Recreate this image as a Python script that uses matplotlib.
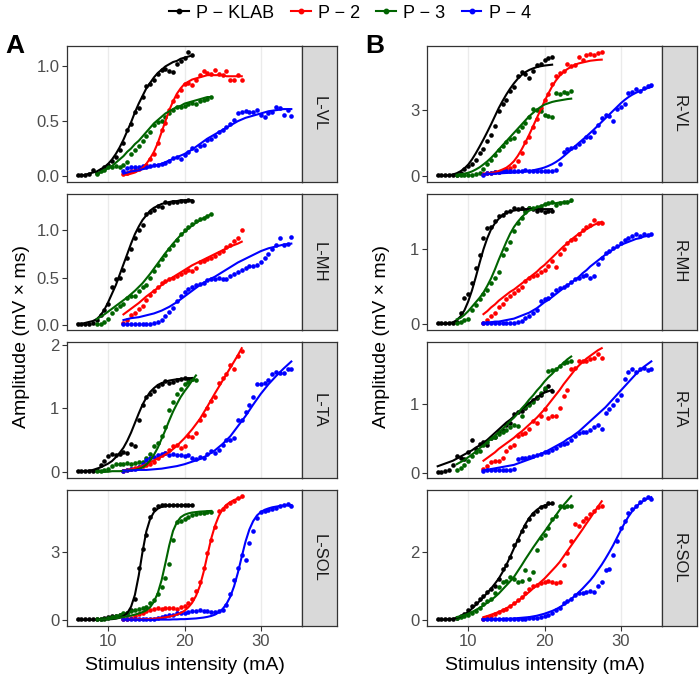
import numpy as np
import matplotlib
matplotlib.use("Agg")
import matplotlib.pyplot as plt
from matplotlib.lines import Line2D

plt.rcParams['font.family'] = ['Liberation Sans', 'DejaVu Sans']

# groups, colours and the stimulus ramp (first intensity of each ramp, step 0.5 mA)
groups = ["P \u2212 KLAB", "P \u2212 2", "P \u2212 3", "P \u2212 4"]
colors = ["black", "red", "darkgreen", "blue"]
first_mA = [6.0, 12.0, 8.5, 12.0]
step_mA = 0.5

# ---------------- L-VL
lvl_klab = [0.01, 0.01, 0.01, 0.02, 0.05, 0.03, 0.05, 0.08, 0.10, 0.14, 0.17, 0.24, 0.30, 0.42, 0.47, 0.58,
            0.62, 0.72, 0.82, 0.84, 0.88, 0.93, 0.97, 0.98, 0.96, 0.95, 1.02, 1.05, 1.08, 1.13, 1.10]
lvl_klab_fit = [0.00, 0.00, 0.01, 0.02, 0.03, 0.04, 0.06, 0.08, 0.11, 0.15, 0.20, 0.26, 0.33, 0.41, 0.49, 0.58,
                0.66, 0.73, 0.80, 0.85, 0.90, 0.94, 0.97, 1.00, 1.02, 1.04, 1.05, 1.07, 1.08, 1.09, 1.10]
lvl_p2 = [0.02, 0.03, 0.04, 0.05, 0.06, 0.08, 0.10, 0.15, 0.20, 0.30, 0.42, 0.48, 0.60, 0.68, 0.73, 0.78,
          0.84, 0.85, 0.83, 0.88, 0.92, 0.96, 0.94, 0.93, 0.97, 0.93, 0.92, 0.96, 0.88, 0.88, 0.92, 0.88]
lvl_p2_fit = [0.01, 0.01, 0.02, 0.03, 0.05, 0.07, 0.11, 0.16, 0.22, 0.30, 0.40, 0.50, 0.60, 0.68, 0.75, 0.80,
              0.84, 0.86, 0.88, 0.89, 0.90, 0.91, 0.92, 0.92, 0.92, 0.92, 0.92, 0.91, 0.91, 0.91, 0.91, 0.91]
lvl_p3 = [0.02, 0.04, 0.05, 0.08, 0.08, 0.09, 0.08, 0.10, 0.13, 0.20, 0.24, 0.27, 0.32, 0.36, 0.40, 0.46,
          0.49, 0.50, 0.54, 0.57, 0.60, 0.63, 0.63, 0.64, 0.66, 0.67, 0.66, 0.68, 0.69, 0.70, 0.72]
lvl_p3_fit = [0.02, 0.03, 0.05, 0.07, 0.09, 0.12, 0.15, 0.18, 0.22, 0.25, 0.29, 0.32, 0.36, 0.40, 0.44, 0.48,
              0.51, 0.54, 0.57, 0.59, 0.61, 0.63, 0.64, 0.66, 0.67, 0.68, 0.69, 0.70, 0.71, 0.72, 0.72]
lvl_p4 = [0.04, 0.07, 0.08, 0.08, 0.08, 0.09, 0.08, 0.09, 0.10, 0.10, 0.11, 0.12, 0.14, 0.16, 0.17, 0.15,
          0.19, 0.22, 0.25, 0.24, 0.27, 0.28, 0.33, 0.34, 0.36, 0.40, 0.42, 0.45, 0.47, 0.51, 0.57, 0.58,
          0.59, 0.58, 0.58, 0.60, 0.56, 0.54, 0.57, 0.58, 0.63, 0.62, 0.56, 0.60, 0.55]
lvl_p4_fit = [0.02, 0.03, 0.04, 0.045, 0.05, 0.06, 0.07, 0.08, 0.09, 0.10, 0.11, 0.125, 0.14, 0.155, 0.17,
              0.185, 0.20, 0.22, 0.24, 0.265, 0.29, 0.315, 0.34, 0.36, 0.38, 0.40, 0.42, 0.44, 0.46, 0.48,
              0.50, 0.515, 0.53, 0.54, 0.55, 0.56, 0.57, 0.58, 0.59, 0.595, 0.60, 0.605, 0.61, 0.61, 0.61]

# ---------------- L-MH
lmh_klab = [0.01, 0.01, 0.01, 0.01, 0.02, 0.05, 0.10, 0.16, 0.22, 0.40, 0.48, 0.50, 0.58, 0.71, 0.80, 0.92,
            1.00, 1.06, 1.17, 1.20, 1.22, 1.26, 1.25, 1.30, 1.29, 1.30, 1.30, 1.31, 1.31, 1.32, 1.31]
lmh_klab_fit = [0.01, 0.01, 0.02, 0.03, 0.04, 0.06, 0.10, 0.16, 0.24, 0.33, 0.42, 0.53, 0.64, 0.75, 0.86, 0.96,
                1.04, 1.11, 1.16, 1.21, 1.24, 1.26, 1.28, 1.29, 1.30, 1.31, 1.31, 1.32, 1.32, 1.32, 1.32]
lmh_p2 = [0.02, 0.05, 0.10, 0.12, 0.17, 0.20, 0.26, 0.32, 0.36, 0.40, 0.44, 0.46, 0.48, 0.50, 0.52, 0.54,
          0.56, 0.58, 0.57, 0.60, 0.66, 0.68, 0.70, 0.71, 0.73, 0.76, 0.78, 0.82, 0.84, 0.89, 0.92, 1.00]
lmh_p2_fit = [0.11, 0.14, 0.17, 0.20, 0.23, 0.265, 0.30, 0.33, 0.36, 0.39, 0.42, 0.45, 0.48, 0.505, 0.53,
              0.555, 0.58, 0.605, 0.63, 0.65, 0.67, 0.69, 0.71, 0.73, 0.75, 0.77, 0.79, 0.81, 0.83, 0.845,
              0.86, 0.88]
lmh_p3 = [0.01, 0.01, 0.03, 0.06, 0.12, 0.17, 0.20, 0.22, 0.28, 0.31, 0.31, 0.36, 0.40, 0.42, 0.50, 0.57,
          0.63, 0.70, 0.74, 0.80, 0.85, 0.90, 0.96, 1.00, 1.04, 1.07, 1.10, 1.12, 1.13, 1.15, 1.17]
lmh_p3_fit = [0.06, 0.085, 0.11, 0.14, 0.17, 0.20, 0.23, 0.26, 0.29, 0.325, 0.36, 0.40, 0.44, 0.49, 0.54,
              0.595, 0.65, 0.705, 0.76, 0.81, 0.86, 0.905, 0.95, 0.985, 1.02, 1.05, 1.08, 1.105, 1.13,
              1.15, 1.17]
lmh_p4 = [0.01, 0.01, 0.01, 0.01, 0.01, 0.01, 0.01, 0.01, 0.02, 0.03, 0.05, 0.09, 0.13, 0.18, 0.25, 0.30,
          0.35, 0.38, 0.40, 0.42, 0.43, 0.44, 0.47, 0.49, 0.48, 0.50, 0.49, 0.48, 0.52, 0.54, 0.56, 0.58,
          0.60, 0.62, 0.62, 0.63, 0.66, 0.71, 0.75, 0.80, 0.84, 0.92, 0.85, 0.86, 0.93]
lmh_p4_fit = [0.05, 0.06, 0.07, 0.075, 0.08, 0.09, 0.10, 0.11, 0.12, 0.135, 0.15, 0.17, 0.19, 0.215, 0.24,
              0.27, 0.30, 0.33, 0.36, 0.39, 0.42, 0.445, 0.47, 0.49, 0.51, 0.535, 0.56, 0.585, 0.61, 0.635,
              0.66, 0.68, 0.70, 0.72, 0.74, 0.76, 0.78, 0.795, 0.81, 0.82, 0.83, 0.84, 0.85, 0.855, 0.86]

# ---------------- L-TA
lta_klab = [0.02, 0.02, 0.02, 0.02, 0.02, 0.03, 0.10, 0.17, 0.25, 0.28, 0.26, 0.28, 0.31, 0.30, 0.44, 0.40,
            0.82, 1.06, 1.18, 1.22, 1.28, 1.35, 1.38, 1.44, 1.40, 1.42, 1.45, 1.46, 1.48, 1.47, 1.46]
lta_klab_fit = [0.01, 0.01, 0.01, 0.02, 0.03, 0.05, 0.07, 0.10, 0.13, 0.17, 0.23, 0.30, 0.38, 0.49, 0.62, 0.77,
                0.92, 1.06, 1.17, 1.26, 1.32, 1.37, 1.40, 1.42, 1.44, 1.45, 1.46, 1.465, 1.47, 1.475, 1.48]
lta_p2 = [0.02, 0.03, 0.05, 0.06, 0.08, 0.09, 0.11, 0.13, 0.15, 0.22, 0.26, 0.30, 0.34, 0.40, 0.42, 0.37,
          0.40, 0.56, 0.55, 0.62, 0.82, 0.90, 1.00, 1.12, 1.18, 1.40, 1.48, 1.54, 1.68, 1.62, 1.82, 1.90]
lta_p2_fit = [0.02, 0.03, 0.04, 0.055, 0.07, 0.095, 0.12, 0.15, 0.18, 0.21, 0.24, 0.275, 0.31, 0.36, 0.41,
              0.47, 0.53, 0.60, 0.67, 0.75, 0.83, 0.93, 1.03, 1.135, 1.24, 1.34, 1.44, 1.54, 1.64, 1.74,
              1.84, 1.95]
lta_p3 = [0.02, 0.02, 0.03, 0.05, 0.09, 0.12, 0.12, 0.13, 0.14, 0.13, 0.14, 0.15, 0.16, 0.22, 0.28, 0.40,
          0.46, 0.56, 0.70, 0.98, 1.10, 1.22, 1.30, 1.38, 1.42, 1.46, 1.45]
lta_p3_fit = [0.00, 0.00, 0.00, 0.00, 0.01, 0.01, 0.01, 0.015, 0.02, 0.025, 0.03, 0.045, 0.07, 0.115, 0.18,
              0.27, 0.38, 0.52, 0.66, 0.81, 0.95, 1.07, 1.18, 1.27, 1.35, 1.44, 1.52]
lta_p4 = [0.02, 0.03, 0.04, 0.05, 0.08, 0.12, 0.18, 0.22, 0.24, 0.26, 0.28, 0.30, 0.27, 0.28, 0.27, 0.26,
          0.25, 0.27, 0.22, 0.20, 0.24, 0.22, 0.28, 0.33, 0.30, 0.35, 0.42, 0.50, 0.50, 0.54, 0.82, 0.82,
          0.95, 1.05, 1.18, 1.38, 1.38, 1.40, 1.45, 1.55, 1.58, 1.56, 1.56, 1.62, 1.62]
lta_p4_fit = [0.02, 0.02, 0.02, 0.025, 0.03, 0.03, 0.03, 0.035, 0.04, 0.045, 0.05, 0.06, 0.07, 0.08, 0.09,
              0.105, 0.12, 0.14, 0.16, 0.18, 0.20, 0.23, 0.26, 0.30, 0.34, 0.39, 0.44, 0.50, 0.56, 0.64,
              0.72, 0.80, 0.88, 0.97, 1.06, 1.145, 1.23, 1.305, 1.38, 1.445, 1.51, 1.57, 1.63, 1.685, 1.74]

# ---------------- L-SOL
lsol_klab = [0.02, 0.02, 0.02, 0.02, 0.02, 0.03, 0.05, 0.08, 0.12, 0.15, 0.18, 0.22, 0.25, 0.30, 0.45, 0.90,
             2.30, 3.10, 3.75, 4.55, 4.90, 5.00, 5.05, 5.08, 5.08, 5.07, 5.06, 5.07, 5.05, 5.06, 5.05]
lsol_klab_fit = [0.00, 0.00, 0.00, 0.00, 0.00, 0.00, 0.01, 0.01, 0.02, 0.03, 0.05, 0.09, 0.16, 0.30, 0.58,
                 1.10, 1.95, 3.00, 3.90, 4.45, 4.75, 4.90, 4.98, 5.02, 5.04, 5.05, 5.05, 5.05, 5.05, 5.05, 5.05]
lsol_p2 = [0.02, 0.05, 0.10, 0.15, 0.25, 0.32, 0.40, 0.45, 0.48, 0.50, 0.49, 0.50, 0.50, 0.50, 0.49, 0.55,
           0.62, 0.72, 0.90, 1.25, 1.65, 2.30, 2.95, 3.50, 4.10, 4.80, 4.90, 5.00, 5.15, 5.25, 5.35, 5.45]
lsol_p2_fit = [0.00, 0.00, 0.01, 0.01, 0.02, 0.02, 0.03, 0.04, 0.05, 0.07, 0.09, 0.11, 0.14, 0.18, 0.23, 0.30,
               0.40, 0.55, 0.75, 1.05, 1.48, 2.10, 2.85, 3.58, 4.15, 4.58, 4.88, 5.07, 5.19, 5.28, 5.35, 5.40]
lsol_p3 = [0.02, 0.03, 0.05, 0.08, 0.12, 0.18, 0.22, 0.28, 0.32, 0.38, 0.42, 0.48, 0.50, 0.58, 0.72, 0.88,
           1.15, 1.45, 1.85, 2.45, 3.50, 4.30, 4.35, 4.45, 4.55, 4.62, 4.65, 4.70, 4.72, 4.75, 4.76]
lsol_p3_fit = [0.00, 0.01, 0.02, 0.03, 0.05, 0.07, 0.10, 0.12, 0.15, 0.19, 0.23, 0.28, 0.34, 0.42, 0.56, 0.80,
               1.18, 1.75, 2.50, 3.28, 3.92, 4.30, 4.52, 4.63, 4.69, 4.73, 4.75, 4.77, 4.78, 4.79, 4.80]
lsol_p4 = [0.02, 0.02, 0.02, 0.02, 0.02, 0.03, 0.03, 0.04, 0.05, 0.08, 0.12, 0.16, 0.20, 0.22, 0.28, 0.30,
           0.32, 0.35, 0.38, 0.40, 0.42, 0.40, 0.38, 0.36, 0.35, 0.38, 0.45, 0.65, 1.15, 1.75, 2.30, 2.85,
           2.65, 3.40, 3.90, 4.50, 4.75, 4.80, 4.85, 4.90, 4.95, 5.00, 5.05, 5.10, 5.02]
lsol_p4_fit = [0.00, 0.00, 0.00, 0.00, 0.00, 0.00, 0.00, 0.00, 0.00, 0.01, 0.01, 0.01, 0.01, 0.02, 0.02, 0.03,
               0.03, 0.04, 0.05, 0.06, 0.08, 0.10, 0.13, 0.17, 0.23, 0.33, 0.48, 0.70, 1.02, 1.48, 2.08, 2.78,
               3.45, 3.98, 4.35, 4.60, 4.75, 4.85, 4.91, 4.96, 4.99, 5.02, 5.04, 5.05, 5.06]

# ---------------- R-VL
rvl_klab = [0.03, 0.03, 0.03, 0.03, 0.03, 0.05, 0.15, 0.30, 0.45, 0.55, 0.75, 1.05, 1.25, 1.60, 1.85, 2.30,
            2.95, 3.30, 3.45, 3.90, 4.05, 4.55, 4.75, 4.65, 4.45, 4.80, 5.05, 5.10, 5.30, 5.38, 5.45]
rvl_klab_fit = [0.01, 0.01, 0.02, 0.04, 0.07, 0.13, 0.22, 0.35, 0.52, 0.76, 1.04, 1.35, 1.67, 2.01, 2.36, 2.73,
                3.10, 3.42, 3.72, 3.99, 4.23, 4.44, 4.61, 4.74, 4.84, 4.91, 4.97, 5.01, 5.04, 5.06, 5.08]
rvl_p2 = [0.08, 0.12, 0.15, 0.18, 0.20, 0.25, 0.30, 0.38, 0.45, 0.70, 1.05, 1.55, 1.80, 2.25, 2.60, 3.10,
          3.45, 3.75, 4.20, 4.55, 4.70, 4.80, 5.10, 5.00, 5.05, 5.45, 5.30, 5.50, 5.55, 5.50, 5.60, 5.65]
rvl_p2_fit = [0.08, 0.10, 0.13, 0.17, 0.23, 0.30, 0.38, 0.51, 0.68, 0.92, 1.21, 1.54, 1.89, 2.27, 2.65, 3.03,
              3.41, 3.76, 4.09, 4.36, 4.58, 4.75, 4.88, 4.99, 5.08, 5.14, 5.18, 5.22, 5.26, 5.28, 5.30, 5.31]
rvl_p3 = [0.04, 0.04, 0.05, 0.05, 0.06, 0.10, 0.15, 0.30, 0.55, 0.75, 0.98, 1.20, 1.35, 1.55, 1.70, 1.75,
          2.05, 2.25, 2.40, 2.70, 3.05, 3.00, 2.95, 2.80, 2.75, 2.70, 3.80, 3.75, 3.85, 3.80, 3.88]
rvl_p3_fit = [0.06, 0.08, 0.11, 0.15, 0.21, 0.30, 0.40, 0.53, 0.67, 0.83, 1.01, 1.21, 1.40, 1.59, 1.78, 1.97,
              2.16, 2.35, 2.54, 2.73, 2.88, 3.03, 3.15, 3.26, 3.32, 3.38, 3.42, 3.45, 3.48, 3.51, 3.53]
rvl_p4 = [0.05, 0.12, 0.15, 0.18, 0.20, 0.22, 0.22, 0.24, 0.22, 0.25, 0.24, 0.26, 0.24, 0.25, 0.25, 0.22,
          0.24, 0.25, 0.24, 0.28, 0.55, 1.10, 1.22, 1.30, 1.32, 1.45, 1.60, 1.78, 1.80, 2.00, 2.35, 2.65,
          2.80, 2.75, 2.50, 3.05, 3.15, 3.30, 3.80, 3.85, 3.95, 3.90, 4.00, 4.10, 4.15]
rvl_p4_fit = [0.08, 0.09, 0.10, 0.11, 0.12, 0.13, 0.14, 0.15, 0.16, 0.17, 0.19, 0.21, 0.23, 0.26, 0.30, 0.34,
              0.39, 0.46, 0.54, 0.64, 0.76, 0.90, 1.05, 1.20, 1.36, 1.51, 1.66, 1.81, 1.97, 2.13, 2.30, 2.47,
              2.64, 2.81, 2.98, 3.15, 3.32, 3.47, 3.60, 3.71, 3.80, 3.88, 3.95, 4.01, 4.06]

# ---------------- R-MH
rmh_klab = [0.01, 0.01, 0.01, 0.01, 0.01, 0.02, 0.15, 0.35, 0.40, 0.55, 0.75, 0.92, 1.15, 1.28, 1.30, 1.38,
            1.45, 1.46, 1.50, 1.52, 1.55, 1.54, 1.55, 1.53, 1.55, 1.54, 1.52, 1.53, 1.50, 1.52, 1.51]
rmh_klab_fit = [0.00, 0.00, 0.00, 0.01, 0.02, 0.05, 0.10, 0.18, 0.30, 0.45, 0.63, 0.82, 1.00, 1.15, 1.27, 1.35,
                1.41, 1.46, 1.49, 1.51, 1.52, 1.53, 1.53, 1.54, 1.54, 1.54, 1.54, 1.54, 1.54, 1.54, 1.54]
rmh_p2 = [0.01, 0.05, 0.10, 0.14, 0.22, 0.27, 0.33, 0.38, 0.42, 0.46, 0.50, 0.58, 0.62, 0.64, 0.66, 0.70,
          0.72, 0.78, 0.84, 0.76, 0.94, 1.00, 1.08, 1.12, 1.14, 1.20, 1.26, 1.30, 1.33, 1.40, 1.36, 1.36]
rmh_p2_fit = [0.13, 0.17, 0.22, 0.26, 0.31, 0.35, 0.39, 0.43, 0.46, 0.50, 0.54, 0.58, 0.62, 0.66, 0.70, 0.75,
              0.79, 0.84, 0.89, 0.94, 0.99, 1.04, 1.08, 1.13, 1.17, 1.21, 1.24, 1.27, 1.30, 1.33, 1.35, 1.37]
rmh_p3 = [0.01, 0.02, 0.05, 0.07, 0.18, 0.25, 0.33, 0.40, 0.46, 0.55, 0.62, 0.70, 0.92, 1.00, 1.10, 1.25,
          1.36, 1.42, 1.50, 1.55, 1.56, 1.57, 1.58, 1.61, 1.62, 1.63, 1.60, 1.62, 1.63, 1.64, 1.66]
rmh_p3_fit = [0.06, 0.08, 0.12, 0.17, 0.23, 0.29, 0.35, 0.42, 0.51, 0.61, 0.73, 0.86, 0.98, 1.10, 1.21, 1.30,
              1.37, 1.43, 1.48, 1.52, 1.54, 1.56, 1.58, 1.60, 1.61, 1.62, 1.62, 1.63, 1.63, 1.64, 1.64]
rmh_p4 = [0.01, 0.01, 0.01, 0.01, 0.01, 0.01, 0.01, 0.01, 0.01, 0.02, 0.04, 0.08, 0.10, 0.14, 0.18, 0.30,
          0.33, 0.34, 0.40, 0.45, 0.48, 0.50, 0.52, 0.56, 0.60, 0.62, 0.64, 0.65, 0.62, 0.64, 0.80, 0.88,
          0.95, 0.98, 1.02, 1.05, 1.08, 1.12, 1.15, 1.18, 1.20, 1.18, 1.20, 1.19, 1.20]
rmh_p4_fit = [0.01, 0.02, 0.02, 0.03, 0.03, 0.04, 0.05, 0.06, 0.07, 0.09, 0.11, 0.13, 0.15, 0.18, 0.21, 0.25,
              0.29, 0.32, 0.36, 0.40, 0.44, 0.48, 0.52, 0.55, 0.59, 0.63, 0.68, 0.72, 0.77, 0.81, 0.85, 0.89,
              0.93, 0.96, 1.00, 1.03, 1.06, 1.08, 1.10, 1.12, 1.14, 1.15, 1.17, 1.18, 1.19]

# ---------------- R-TA
rta_klab = [0.02, 0.02, 0.03, 0.05, 0.12, 0.25, 0.22, 0.20, 0.30, 0.48, 0.35, 0.42, 0.45, 0.40, 0.50, 0.52,
            0.60, 0.62, 0.70, 0.72, 0.85, 0.88, 0.90, 0.94, 1.00, 1.05, 1.08, 1.12, 1.20, 1.25, 1.18]
rta_klab_fit = [0.10, 0.12, 0.14, 0.16, 0.18, 0.21, 0.24, 0.27, 0.30, 0.33, 0.37, 0.40, 0.44, 0.48, 0.53, 0.58,
                0.63, 0.68, 0.73, 0.77, 0.82, 0.87, 0.92, 0.97, 1.01, 1.05, 1.09, 1.13, 1.16, 1.18, 1.20]
rta_p2 = [0.06, 0.10, 0.16, 0.18, 0.18, 0.22, 0.32, 0.38, 0.40, 0.54, 0.56, 0.58, 0.63, 0.75, 0.72, 0.82,
          0.92, 0.80, 0.82, 0.82, 0.94, 1.11, 1.20, 1.50, 1.52, 1.61, 1.62, 1.62, 1.64, 1.66, 1.72, 1.66]
rta_p2_fit = [0.18, 0.22, 0.26, 0.30, 0.35, 0.39, 0.43, 0.47, 0.51, 0.56, 0.60, 0.65, 0.70, 0.75, 0.80, 0.86,
              0.92, 0.99, 1.06, 1.13, 1.20, 1.28, 1.35, 1.42, 1.49, 1.55, 1.60, 1.65, 1.69, 1.73, 1.77, 1.80]
rta_p3 = [0.04, 0.08, 0.12, 0.18, 0.25, 0.30, 0.32, 0.40, 0.45, 0.50, 0.52, 0.56, 0.60, 0.62, 0.66, 0.70,
          0.68, 0.82, 0.95, 0.98, 1.02, 1.10, 1.15, 1.22, 1.47, 1.48, 1.50, 1.55, 1.58, 1.60, 1.62]
rta_p3_fit = [0.13, 0.16, 0.19, 0.23, 0.27, 0.31, 0.36, 0.40, 0.45, 0.50, 0.54, 0.59, 0.64, 0.69, 0.75, 0.80,
              0.86, 0.93, 0.99, 1.06, 1.12, 1.19, 1.25, 1.32, 1.38, 1.43, 1.49, 1.54, 1.59, 1.64, 1.68]
rta_p4 = [0.03, 0.04, 0.04, 0.04, 0.04, 0.04, 0.05, 0.05, 0.06, 0.20, 0.22, 0.22, 0.24, 0.25, 0.26, 0.28,
          0.30, 0.31, 0.33, 0.36, 0.40, 0.42, 0.44, 0.48, 0.54, 0.58, 0.60, 0.60, 0.62, 0.66, 0.70, 0.64,
          0.87, 0.92, 0.98, 1.05, 1.12, 1.35, 1.45, 1.50, 1.46, 1.50, 1.52, 1.48, 1.50]
rta_p4_fit = [0.04, 0.05, 0.06, 0.07, 0.08, 0.09, 0.10, 0.11, 0.12, 0.14, 0.16, 0.18, 0.20, 0.22, 0.25, 0.28,
              0.30, 0.33, 0.36, 0.39, 0.42, 0.45, 0.49, 0.52, 0.56, 0.60, 0.65, 0.70, 0.75, 0.80, 0.85, 0.90,
              0.95, 1.01, 1.07, 1.13, 1.19, 1.25, 1.31, 1.37, 1.43, 1.48, 1.53, 1.57, 1.61]

# ---------------- R-SOL
rsol_klab = [0.01, 0.01, 0.01, 0.01, 0.02, 0.05, 0.10, 0.18, 0.28, 0.40, 0.50, 0.60, 0.70, 0.82, 0.90, 1.00,
             1.20, 1.50, 1.60, 1.85, 2.20, 2.35, 2.60, 2.75, 2.95, 3.10, 3.20, 3.30, 3.35, 3.42, 3.42]
rsol_klab_fit = [0.00, 0.00, 0.01, 0.02, 0.03, 0.06, 0.10, 0.16, 0.23, 0.33, 0.44, 0.55, 0.67, 0.79, 0.92, 1.06,
                 1.21, 1.40, 1.61, 1.85, 2.10, 2.35, 2.59, 2.81, 2.99, 3.13, 3.23, 3.31, 3.36, 3.39, 3.41]
rsol_p2 = [0.03, 0.08, 0.12, 0.16, 0.22, 0.28, 0.32, 0.40, 0.48, 0.58, 0.68, 0.80, 0.90, 0.98, 1.02, 1.08,
           1.12, 1.15, 1.10, 1.08, 1.12, 1.60, 1.95, 2.30, 2.80, 2.75, 2.90, 3.00, 3.10, 3.20, 3.30, 3.35]
rsol_p2_fit = [0.08, 0.11, 0.15, 0.19, 0.23, 0.28, 0.34, 0.40, 0.47, 0.55, 0.64, 0.73, 0.82, 0.92, 1.01, 1.11,
               1.21, 1.33, 1.45, 1.57, 1.70, 1.86, 2.02, 2.18, 2.34, 2.50, 2.66, 2.83, 2.99, 3.16, 3.32, 3.48]
rsol_p3 = [0.05, 0.08, 0.10, 0.15, 0.20, 0.25, 0.35, 0.45, 0.55, 0.62, 0.80, 0.95, 1.10, 1.15, 1.25, 1.20,
           1.10, 1.15, 1.45, 1.20, 1.40, 2.05, 2.40, 2.50, 2.70, 2.95, 3.05, 3.35, 3.30, 3.35, 3.35]
rsol_p3_fit = [0.08, 0.11, 0.14, 0.18, 0.23, 0.29, 0.35, 0.42, 0.50, 0.58, 0.67, 0.77, 0.89, 1.01, 1.13, 1.26,
               1.43, 1.60, 1.78, 1.95, 2.12, 2.28, 2.44, 2.59, 2.75, 2.91, 3.07, 3.23, 3.37, 3.50, 3.63]
rsol_p4 = [0.02, 0.02, 0.02, 0.02, 0.02, 0.02, 0.02, 0.02, 0.02, 0.02, 0.03, 0.03, 0.04, 0.05, 0.06, 0.08,
           0.10, 0.13, 0.20, 0.28, 0.35, 0.50, 0.55, 0.62, 0.72, 0.78, 0.80, 0.82, 0.85, 0.82, 1.00, 1.10,
           1.45, 1.50, 1.90, 2.30, 2.70, 2.90, 3.15, 3.25, 3.35, 3.45, 3.55, 3.60, 3.55]
rsol_p4_fit = [0.01, 0.01, 0.01, 0.02, 0.02, 0.02, 0.03, 0.03, 0.04, 0.05, 0.06, 0.07, 0.08, 0.10, 0.12, 0.15,
               0.18, 0.22, 0.26, 0.31, 0.37, 0.44, 0.52, 0.61, 0.71, 0.81, 0.92, 1.04, 1.16, 1.30, 1.46, 1.62,
               1.80, 1.99, 2.19, 2.41, 2.63, 2.84, 3.03, 3.19, 3.32, 3.42, 3.50, 3.56, 3.60]

# facet table: (strip label, points per group, fits per group, y breaks, y labels)
left_facets = [
    ("L-VL", [lvl_klab, lvl_p2, lvl_p3, lvl_p4], [lvl_klab_fit, lvl_p2_fit, lvl_p3_fit, lvl_p4_fit],
     [0, 0.5, 1.0], ["0.0", "0.5", "1.0"]),
    ("L-MH", [lmh_klab, lmh_p2, lmh_p3, lmh_p4], [lmh_klab_fit, lmh_p2_fit, lmh_p3_fit, lmh_p4_fit],
     [0, 0.5, 1.0], ["0.0", "0.5", "1.0"]),
    ("L-TA", [lta_klab, lta_p2, lta_p3, lta_p4], [lta_klab_fit, lta_p2_fit, lta_p3_fit, lta_p4_fit],
     [0, 1, 2], ["0", "1", "2"]),
    ("L-SOL", [lsol_klab, lsol_p2, lsol_p3, lsol_p4], [lsol_klab_fit, lsol_p2_fit, lsol_p3_fit, lsol_p4_fit],
     [0, 3], ["0", "3"]),
]
right_facets = [
    ("R-VL", [rvl_klab, rvl_p2, rvl_p3, rvl_p4], [rvl_klab_fit, rvl_p2_fit, rvl_p3_fit, rvl_p4_fit],
     [0, 3], ["0", "3"]),
    ("R-MH", [rmh_klab, rmh_p2, rmh_p3, rmh_p4], [rmh_klab_fit, rmh_p2_fit, rmh_p3_fit, rmh_p4_fit],
     [0, 1], ["0", "1"]),
    ("R-TA", [rta_klab, rta_p2, rta_p3, rta_p4], [rta_klab_fit, rta_p2_fit, rta_p3_fit, rta_p4_fit],
     [0, 1], ["0", "1"]),
    ("R-SOL", [rsol_klab, rsol_p2, rsol_p3, rsol_p4], [rsol_klab_fit, rsol_p2_fit, rsol_p3_fit, rsol_p4_fit],
     [0, 2], ["0", "2"]),
]

# layout in pixels
W, H = 700, 682
col_left = [67, 427]
panel_w, strip_w, panel_h = 235, 35, 136
row_top = [46, 194, 342, 490]
grey20, grey30 = "#333333", "#4D4D4D"


def box(l, t, w, h):
    return [l / W, 1 - (t + h) / H, w / W, h / H]


def ramp(start, n):
    return start + step_mA * np.arange(n)


fig = plt.figure(figsize=(7, 6.82), dpi=100)

for c, facets in enumerate([left_facets, right_facets]):
    for r, (strip, pts, fits, yb, yl) in enumerate(facets):
        ax = fig.add_axes(box(col_left[c], row_top[r], panel_w, panel_h))
        allx, ally = [], []
        for g in range(4):
            xp = ramp(first_mA[g], len(pts[g]))
            xf = ramp(first_mA[g], len(fits[g]))
            ax.scatter(xp, pts[g], s=11, color=colors[g], linewidths=0, zorder=3)
            ax.plot(xf, fits[g], color=colors[g], lw=1.5, zorder=4)
            allx += list(xp) + list(xf)
            ally += list(pts[g]) + list(fits[g])
        x0, x1 = min(allx), max(allx)
        y0, y1 = min(ally), max(ally)
        ax.set_xlim(x0 - 0.05 * (x1 - x0), x1 + 0.05 * (x1 - x0))
        ax.set_ylim(y0 - 0.05 * (y1 - y0), y1 + 0.05 * (y1 - y0))
        ax.set_xticks([10, 20, 30])
        ax.set_yticks(yb)
        ax.set_yticklabels(yl)
        ax.grid(axis='x', color='#EBEBEB', lw=1.0)
        ax.set_axisbelow(True)
        for sp in ax.spines.values():
            sp.set_color(grey20)
            sp.set_linewidth(0.9)
        ax.tick_params(direction='out', length=3.5, width=0.8, color=grey20,
                       labelcolor=grey30, labelsize=12, pad=2)
        if r < 3:
            ax.tick_params(axis='x', bottom=False, labelbottom=False)

        sax = fig.add_axes(box(col_left[c] + panel_w, row_top[r], strip_w, panel_h))
        sax.set_facecolor('#D9D9D9')
        sax.set_xticks([])
        sax.set_yticks([])
        for sp in sax.spines.values():
            sp.set_color(grey20)
            sp.set_linewidth(0.9)
        sax.text(0.5, 0.5, strip, rotation=-90, ha='center', va='center',
                 fontsize=12, color='#1A1A1A', transform=sax.transAxes)

    # axis titles
    mid = col_left[c] + panel_w / 2
    fig.text(mid / W, 1 - 665 / H, "Stimulus intensity (mA)", ha='center', va='center', fontsize=14)
    fig.text((col_left[c] - 45) / W, 1 - 336 / H, "Amplitude (mV \u00d7 ms)", rotation=90,
             ha='center', va='center', fontsize=14)
    fig.text((col_left[c] - 52) / W, 1 - 46 / H, "AB"[c], ha='center', va='center',
             fontsize=19, fontweight='bold')

handles = [Line2D([0], [0], color=colors[g], lw=1.5, marker='o', markersize=3.2) for g in range(4)]
fig.legend(handles, groups, loc='center', bbox_to_anchor=(0.5, 1 - 13 / H), ncol=4, frameon=False,
           fontsize=13, handlelength=1.1, handletextpad=0.4, columnspacing=0.9)

fig.savefig("out.png", dpi=100)
